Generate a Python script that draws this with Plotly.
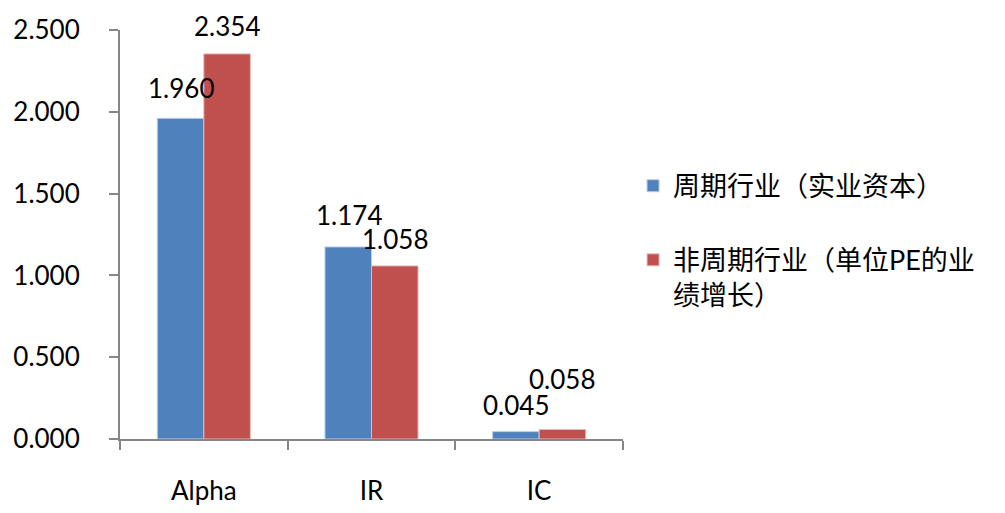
import plotly.graph_objects as go

categories = ["Alpha", "IR", "IC"]
cyclical = [1.960, 1.174, 0.045]
noncyclical = [2.354, 1.058, 0.058]
series_names = ["周期行业（实业资本）", "非周期行业（单位PE的业<br>绩增长）"]
y_ticks = [0, 0.5, 1.0, 1.5, 2.0, 2.5]

# label offsets (pixels) for data labels, style only
blue_label_shift = [30, 32, 27]
red_label_shift = [28, 27, 51]

BLUE = "#4F81BD"
RED = "#C0504D"
AXIS = "#868686"
NUM_FONT = "Lato, Noto Sans, sans-serif"
CJK_FONT = "Lato, Noto Sans CJK SC, sans-serif"

fig = go.Figure()
fig.add_trace(go.Bar(x=categories, y=cyclical, name=series_names[0],
                     marker=dict(color=BLUE, line=dict(color="#B9CDE5", width=1)),
                     legendgroup="a"))
fig.add_trace(go.Bar(x=categories, y=noncyclical, name=series_names[1],
                     marker=dict(color=RED, line=dict(color="#E6B9B8", width=1)),
                     legendgroup="b"))

annotations = []
for i, c in enumerate(categories):
    annotations.append(dict(x=c, y=cyclical[i], xref="x", yref="y", text=f"{cyclical[i]:.3f}",
                            showarrow=False, xshift=-23, yshift=blue_label_shift[i],
                            borderpad=0,
                            font=dict(family=NUM_FONT, size=26, color="#000000")))
    annotations.append(dict(x=c, y=noncyclical[i], xref="x", yref="y", text=f"{noncyclical[i]:.3f}",
                            showarrow=False, xshift=23, yshift=red_label_shift[i],
                            borderpad=0,
                            font=dict(family=NUM_FONT, size=26, color="#000000")))

fig.update_layout(
    width=1005, height=513,
    margin=dict(l=112, r=390, t=22, b=82, autoexpand=False),
    paper_bgcolor="white", plot_bgcolor="white",
    barmode="group", bargap=0.445, bargroupgap=0,
    annotations=annotations,
    showlegend=True,
    legend=dict(x=1.02, y=0.678, xanchor="left", yanchor="top",
                font=dict(family=CJK_FONT, size=27, color="#000000"),
                valign="top", tracegroupgap=36, traceorder="grouped",
                itemwidth=30, bgcolor="rgba(0,0,0,0)"),
    xaxis=dict(showline=True, linecolor=AXIS, linewidth=2, ticks="outside",
               tickson="boundaries", ticklen=9, tickcolor=AXIS, tickwidth=2,
               ticklabelstandoff=28, automargin=False,
               tickfont=dict(family=NUM_FONT, size=26, color="#000000"),
               showgrid=False, zeroline=False),
    yaxis=dict(range=[0, 2.5], tickvals=y_ticks, tickformat=".3f",
               showline=True, linecolor=AXIS, linewidth=2, ticks="outside",
               ticklen=9, tickcolor=AXIS, tickwidth=2, ticklabelstandoff=24,
               automargin=False,
               tickfont=dict(family=NUM_FONT, size=26, color="#000000"),
               showgrid=False, zeroline=False),
)

fig.write_html("out.html")
